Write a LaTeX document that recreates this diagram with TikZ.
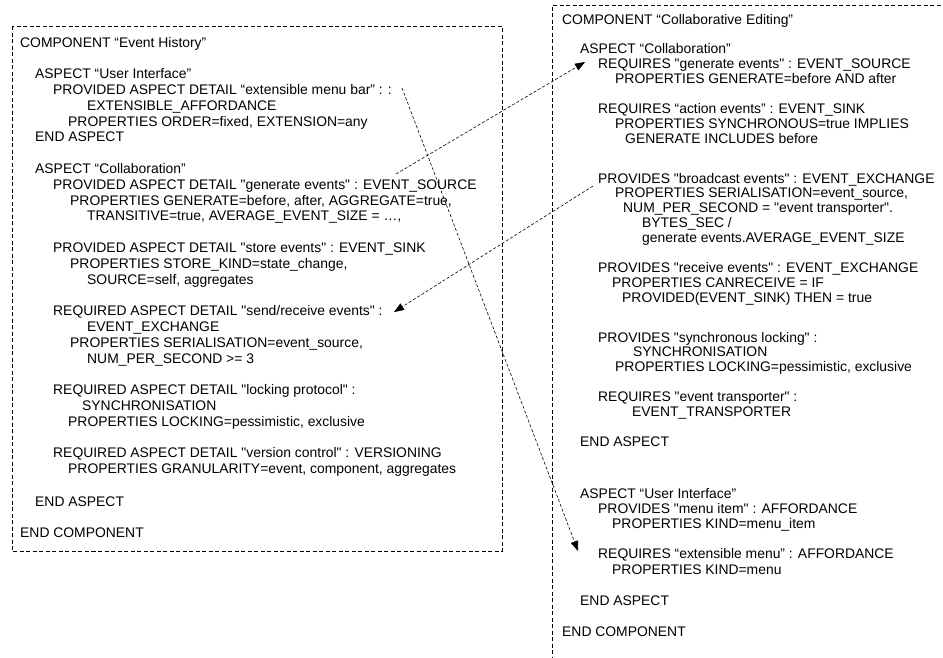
\documentclass[tikz,border=0pt]{standalone}
\usepackage{fontspec}
\newfontfamily\arialfont{Liberation Sans}
\usetikzlibrary{arrows.meta}
\tikzset{
  txt/.style={anchor=base west, inner sep=0pt, font=\arialfont\fontsize{13.9}{15}\selectfont},
  boxline/.style={dash pattern=on 4pt off 2.5pt, line width=0.8pt},
  conn/.style={dash pattern=on 3pt off 2pt, line width=0.6pt, -{Triangle[length=10pt,width=7.5pt]}}
}
\newcommand{\txtline}[4]{\node[txt] (#1) at (#2,#3+5) {#4};}
\begin{document}
\begin{tikzpicture}[x=1pt,y=-1pt]
\useasboundingbox (0,0) rectangle (943,657);
\fill[white] (0,0) rectangle (943,657);
% boxes
\draw[boxline] (12,26) rectangle (502,551);
\begin{scope}
\clip (0,0) rectangle (943,657);
\draw[boxline] (960,5) -- (552,5) -- (552,680);
\end{scope}
% left component
\txtline{l0}{20}{42}{COMPONENT “Event History”}
\txtline{l1}{35}{73.6}{ASPECT “User Interface”}
\txtline{l2}{53}{89.4}{PROVIDED ASPECT DETAIL “extensible menu bar” : :}
\txtline{l3}{87}{105.2}{EXTENSIBLE\_AFFORDANCE}
\txtline{l4}{68}{121}{PROPERTIES ORDER=fixed, EXTENSION=any}
\txtline{l5}{35}{136.8}{END ASPECT}
\txtline{l6}{35}{168.4}{ASPECT “Collaboration”}
\txtline{l7}{53}{184.2}{PROVIDED ASPECT DETAIL "generate events" : EVENT\_SOURCE}
\txtline{l8}{70}{200}{PROPERTIES GENERATE=before, after, AGGREGATE=true,}
\txtline{l9}{87}{215.8}{TRANSITIVE=true, AVERAGE\_EVENT\_SIZE = …,}
\txtline{l10}{53}{247.4}{PROVIDED ASPECT DETAIL "store events" : EVENT\_SINK}
\txtline{l11}{70}{263.2}{PROPERTIES STORE\_KIND=state\_change,}
\txtline{l12}{87}{279}{SOURCE=self, aggregates}
\txtline{l13}{53}{310.6}{REQUIRED ASPECT DETAIL "send/receive events" :}
\txtline{l14}{87}{326.4}{EVENT\_EXCHANGE}
\txtline{l15}{70}{342.2}{PROPERTIES SERIALISATION=event\_source,}
\txtline{l16}{87}{358}{NUM\_PER\_SECOND >= 3}
\txtline{l17}{53}{389.6}{REQUIRED ASPECT DETAIL "locking protocol" :}
\txtline{l18}{82}{405.4}{SYNCHRONISATION}
\txtline{l19}{68}{421.2}{PROPERTIES LOCKING=pessimistic, exclusive}
\txtline{l20}{53}{452.8}{REQUIRED ASPECT DETAIL "version control" : VERSIONING}
\txtline{l21}{68}{468.6}{PROPERTIES GRANULARITY=event, component, aggregates}
\txtline{l22}{35}{501}{END ASPECT}
\txtline{l23}{20}{532.5}{END COMPONENT}
% right component
\txtline{r0}{562}{19}{COMPONENT “Collaborative Editing”}
\txtline{r1}{580}{48.8}{ASPECT “Collaboration”}
\txtline{r2}{598}{63.7}{REQUIRES "generate events" : EVENT\_SOURCE}
\txtline{r3}{615}{78.6}{PROPERTIES GENERATE=before AND after}
\txtline{r4}{598}{108.4}{REQUIRES “action events” : EVENT\_SINK}
\txtline{r5}{615}{123.3}{PROPERTIES SYNCHRONOUS=true IMPLIES}
\txtline{r6}{625}{138.2}{GENERATE INCLUDES before}
\txtline{r7}{598}{178}{PROVIDES "broadcast events" : EVENT\_EXCHANGE}
\txtline{r8}{615}{192.9}{PROPERTIES SERIALISATION=event\_source,}
\txtline{r9}{623}{207.8}{NUM\_PER\_SECOND = "event transporter".}
\txtline{r10}{642}{222.7}{BYTES\_SEC /}
\txtline{r11}{642}{237.6}{generate events.AVERAGE\_EVENT\_SIZE}
\txtline{r12}{598}{267.4}{PROVIDES "receive events" : EVENT\_EXCHANGE}
\txtline{r13}{612}{282.3}{PROPERTIES CANRECEIVE = IF}
\txtline{r14}{622}{297.2}{PROVIDED(EVENT\_SINK) THEN = true}
\txtline{r15}{598}{337}{PROVIDES "synchronous locking" :}
\txtline{r16}{633}{351.9}{SYNCHRONISATION}
\txtline{r17}{615}{366.8}{PROPERTIES LOCKING=pessimistic, exclusive}
\txtline{r18}{598}{396.6}{REQUIRES "event transporter" :}
\txtline{r19}{632}{411.5}{EVENT\_TRANSPORTER}
\txtline{r20}{580}{441.3}{END ASPECT}
\txtline{r21}{580}{493}{ASPECT “User Interface”}
\txtline{r22}{598}{508.2}{PROVIDES "menu item" : AFFORDANCE}
\txtline{r23}{612}{523.4}{PROPERTIES KIND=menu\_item}
\txtline{r24}{598}{553.8}{REQUIRES “extensible menu” : AFFORDANCE}
\txtline{r25}{612}{569}{PROPERTIES KIND=menu}
\txtline{r26}{580}{600}{END ASPECT}
\txtline{r27}{562}{631}{END COMPONENT}
% connector end points
\coordinate (a1s) at (396,174);
\coordinate (a1e) at (585,62);
\coordinate (a2s) at (593,186);
\coordinate (a2e) at (394,312);
\coordinate (a3s) at (402,88);
\coordinate (a3e) at (578,551);
\draw[conn] (a1s) -- (a1e);
\draw[conn] (a2s) -- (a2e);
\draw[conn] (a3s) -- (a3e);
\end{tikzpicture}
\end{document}
